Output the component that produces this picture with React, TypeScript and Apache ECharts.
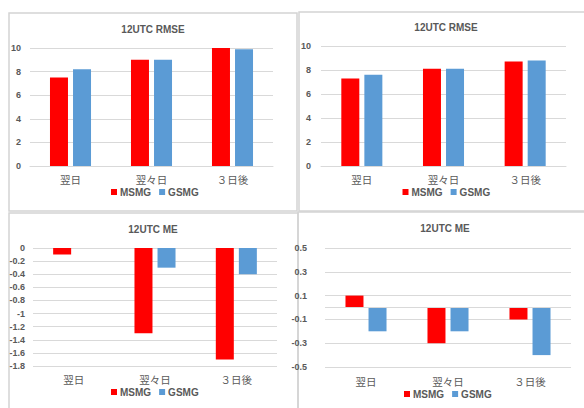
import React, { useEffect, useRef } from "react";
import * as echarts from "echarts";

const categories = ["翌日", "翌々日", "３日後"];
const seriesNames = ["MSMG", "GSMG"];
const titles = ["12UTC RMSE", "12UTC RMSE", "12UTC ME", "12UTC ME"];

const rmseLeftMSMG = [7.5, 9.0, 10.0];
const rmseLeftGSMG = [8.2, 9.0, 9.9];
const rmseRightMSMG = [7.3, 8.1, 8.7];
const rmseRightGSMG = [7.6, 8.1, 8.8];
const meLeftMSMG = [-0.1, -1.3, -1.7];
const meLeftGSMG = [0, -0.3, -0.4];
const meRightMSMG = [0.1, -0.3, -0.1];
const meRightGSMG = [-0.2, -0.2, -0.4];

const RED = "#FF0000";
const BLUE = "#5B9BD5";
const GRAY = "#595959";
const GRID = "#d9d9d9";
const LATIN = "'Liberation Sans', Arial, sans-serif";
const CJK = "'Noto Sans CJK JP', sans-serif";

const fmt = (v: number) => {
  const r = Math.round(v * 10) / 10;
  return (Object.is(r, -0) ? 0 : r).toString();
};

export default function App() {
  const ref = useRef<HTMLDivElement>(null);
  useEffect(() => {
    if (!ref.current) return;
    const chart = echarts.init(ref.current, undefined, { renderer: "svg" });

    const grids = [
      { left: 30, top: 48, width: 243, height: 118 },
      { left: 321, top: 46, width: 245, height: 120 },
      { left: 33, top: 248, width: 244, height: 118 },
      { left: 325, top: 248, width: 246, height: 119 },
    ];
    const yCfg = [
      { min: 0, max: 10, interval: 2, margin: 9 },
      { min: 0, max: 10, interval: 2, margin: 10 },
      { min: -1.8, max: 0, interval: 0.2, margin: 8 },
      { min: -0.5, max: 0.5, interval: 0.2, margin: 18 },
    ];
    const data = [
      [rmseLeftMSMG, rmseLeftGSMG],
      [rmseRightMSMG, rmseRightGSMG],
      [meLeftMSMG, meLeftGSMG],
      [meRightMSMG, meRightGSMG],
    ];
    const titlePos = [
      [153, 29],
      [446, 27],
      [153, 229],
      [445, 228],
    ];
    const legendPos = [
      [111, 187],
      [402.5, 187],
      [111, 387],
      [404, 389],
    ];
    const borders = [
      [9, 13, 288, 198],
      [299, 12, 292, 199],
      [9, 213, 289, 205],
      [298, 212, 292, 205],
    ];

    const xAxis = grids.map((_, i) => ({
      type: "category",
      gridIndex: i,
      data: categories,
      axisTick: { show: false },
      axisLine: {
        show: i < 2,
        onZero: false,
        lineStyle: { color: GRID, width: 1 },
      },
      axisLabel: {
        color: GRAY,
        fontSize: 10.5,
        fontFamily: CJK,
        margin: i === 3 ? 9 : 8,
      },
    }));
    const yAxis = grids.map((_, i) => ({
      type: "value",
      gridIndex: i,
      min: yCfg[i].min,
      max: yCfg[i].max,
      interval: yCfg[i].interval,
      axisLine: { show: false },
      axisTick: { show: false },
      splitLine: { lineStyle: { color: GRID, width: 1 } },
      axisLabel: {
        color: GRAY,
        fontSize: 9,
        fontWeight: "bold",
        fontFamily: LATIN,
        margin: yCfg[i].margin,
        formatter: (v: number) => fmt(v),
      },
    }));
    const series: any[] = [];
    grids.forEach((_, i) => {
      seriesNames.forEach((name, s) => {
        const sr: any = {
          type: "bar",
          name,
          xAxisIndex: i,
          yAxisIndex: i,
          data: data[i][s],
          barWidth: 18,
          barGap: "28%",
          itemStyle: { color: s === 0 ? RED : BLUE },
        };
        if (i === 3 && s === 0) {
          sr.markLine = {
            silent: true,
            symbol: "none",
            label: { show: false },
            lineStyle: { color: GRID, type: "solid", width: 1 },
            data: [{ yAxis: 0 }],
          };
        }
        series.push(sr);
      });
    });
    const legend = grids.map((_, i) => ({
      data: seriesNames,
      left: legendPos[i][0],
      top: legendPos[i][1],
      padding: 0,
      itemWidth: 6,
      itemHeight: 6,
      itemGap: 8,
      icon: "rect",
      selectedMode: false,
      textStyle: {
        color: GRAY,
        fontSize: 10,
        fontWeight: "bold",
        fontFamily: LATIN,
        padding: [0, 0, 0, -2],
      },
    }));
    const graphic: any[] = [];
    borders.forEach((b) => {
      graphic.push({
        type: "rect",
        shape: { x: b[0], y: b[1], width: b[2], height: b[3] },
        style: { fill: "none", stroke: "#d4d4d4", lineWidth: 1.5 },
        silent: true,
      });
    });
    titles.forEach((t, i) => {
      graphic.push({
        type: "text",
        x: titlePos[i][0],
        y: titlePos[i][1],
        style: {
          text: t,
          fill: GRAY,
          font: `bold 10px ${LATIN}`,
          textAlign: "center",
          textVerticalAlign: "middle",
          align: "center",
          verticalAlign: "middle",
        },
        silent: true,
      });
    });

    chart.setOption({
      animation: false,
      backgroundColor: "#ffffff",
      grid: grids,
      xAxis,
      yAxis,
      series,
      legend,
      graphic,
    });
    return () => chart.dispose();
  }, []);
  return (
    <div
      ref={ref}
      style={{ position: "fixed", left: 0, top: 0, width: 584, height: 408 }}
    />
  );
}
